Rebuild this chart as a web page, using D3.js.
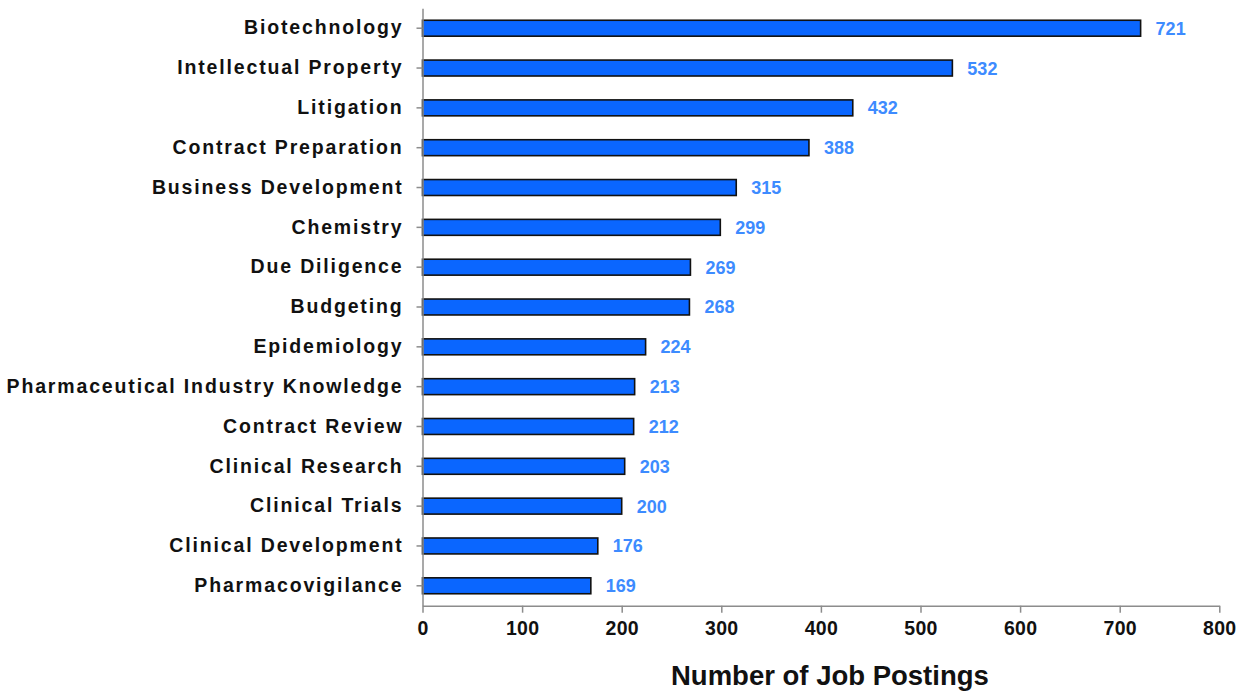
<!DOCTYPE html>
<html>
<head>
<meta charset="utf-8">
<script src="https://cdn.jsdelivr.net/npm/d3@7"></script>
<style>
  html, body { margin: 0; padding: 0; background: #fff; }
  svg { display: block; }
  text { font-family: "Liberation Sans", Arial, sans-serif; font-weight: bold; }
</style>
</head>
<body>
<svg id="chart" width="1242" height="692"></svg>
<script>
const categories = [
  "Biotechnology", "Intellectual Property", "Litigation", "Contract Preparation",
  "Business Development", "Chemistry", "Due Diligence", "Budgeting", "Epidemiology",
  "Pharmaceutical Industry Knowledge", "Contract Review", "Clinical Research",
  "Clinical Trials", "Clinical Development", "Pharmacovigilance"
];
const values = [721, 532, 432, 388, 315, 299, 269, 268, 224, 213, 212, 203, 200, 176, 169];
const xTicks = [0, 100, 200, 300, 400, 500, 600, 700, 800];
const xTitle = "Number of Job Postings";

const svg = d3.select("#chart");
const plotLeft = 422.5, plotRight = 1219.3, plotTop = 8.3, plotBottom = 605.7;

const x = d3.scaleLinear().domain([0, 800]).range([plotLeft, plotRight]);
const y = d3.scaleBand().domain(categories).range([plotTop, plotBottom]).paddingInner(0.6).paddingOuter(0.3);

// bars
svg.append("g").selectAll("rect").data(values).join("rect")
  .attr("x", x(0))
  .attr("y", (d, i) => y(categories[i]))
  .attr("width", d => x(d) - x(0))
  .attr("height", y.bandwidth())
  .attr("fill", "#0a66ff")
  .attr("stroke", "#111")
  .attr("stroke-width", 1.6);

// x axis
const xAxis = svg.append("g").attr("transform", `translate(0,${plotBottom})`)
  .call(d3.axisBottom(x).tickValues(xTicks).tickSize(7).tickSizeOuter(0).tickPadding(8.5));
xAxis.select(".domain").attr("stroke", "#8c8c8c").attr("stroke-width", 1.5);
xAxis.selectAll(".tick line").attr("stroke", "#8c8c8c").attr("stroke-width", 1.5);
xAxis.selectAll(".tick text").attr("font-size", 19.5).attr("fill", "#111")
  .style("font-family", "'Liberation Sans', Arial, sans-serif").style("font-weight", "bold")
  .style("letter-spacing", "0.3px");

// y axis
const yAxis = svg.append("g").attr("transform", `translate(${plotLeft},0)`)
  .call(d3.axisLeft(y).tickSize(6).tickSizeOuter(0).tickPadding(13));
yAxis.select(".domain").attr("stroke", "#8c8c8c").attr("stroke-width", 1.5);
yAxis.selectAll(".tick line").attr("stroke", "#8c8c8c").attr("stroke-width", 1.5);
yAxis.selectAll(".tick text").attr("font-size", 19.5).attr("fill", "#111")
  .style("font-family", "'Liberation Sans', Arial, sans-serif").style("font-weight", "bold")
  .style("letter-spacing", "1.85px");

// value labels
svg.append("g").selectAll("text").data(values).join("text")
  .attr("x", d => x(d) + 15)
  .attr("y", (d, i) => y(categories[i]) + y.bandwidth() / 2)
  .attr("dy", "0.36em")
  .attr("font-size", 18)
  .attr("fill", "#3d8bff")
  .text(d => d);

// x title
svg.append("text")
  .attr("x", (plotLeft + plotRight) / 2 + 9)
  .attr("y", 685)
  .attr("text-anchor", "middle")
  .attr("font-size", 27.5)
  .attr("fill", "#111")
  .text(xTitle);
</script>
</body>
</html>
